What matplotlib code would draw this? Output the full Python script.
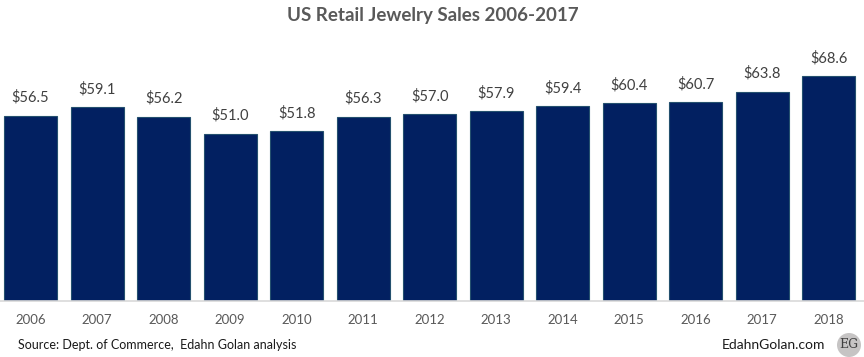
import matplotlib
matplotlib.use("Agg")
import matplotlib.pyplot as plt
from matplotlib.patches import Ellipse

years = ["2006", "2007", "2008", "2009", "2010", "2011", "2012",
         "2013", "2014", "2015", "2016", "2017", "2018"]
sales = [56.5, 59.1, 56.2, 51.0, 51.8, 56.3, 57.0, 57.9, 59.4, 60.4, 60.7, 63.8, 68.6]
labels = ["$%.1f" % v for v in sales]

plt.rcParams['font.family'] = ['Lato', 'DejaVu Sans']

fig = plt.figure(figsize=(8.64, 3.57), dpi=100)
ax = fig.add_axes([0, 0.156, 1, 0.735])

x = list(range(len(years)))
bars = ax.bar(x, sales, width=0.80, color='#022061', edgecolor='#24506e', linewidth=0.8)

for xi, v, lab in zip(x, sales, labels):
    ax.annotate(lab, (xi, v), xytext=(0, 8), textcoords='offset points',
                ha='center', va='bottom', fontsize=10.5, color='#404040')

ax.set_xlim(-0.46, 12.53)
ax.set_ylim(0, 80)
ax.set_xticks(x)
ax.set_xticklabels(years, fontsize=9.5, color='#595959')
ax.tick_params(axis='x', length=0, pad=9)
ax.set_yticks([])
for s in ['top', 'left', 'right']:
    ax.spines[s].set_visible(False)
ax.spines['bottom'].set_color('#d9d9d9')
ax.spines['bottom'].set_linewidth(1.2)

fig.text(0.501, 0.957, "US Retail Jewelry Sales 2006-2017", ha='center', va='center',
         fontsize=13.5, fontweight='bold', color='#595959')
fig.text(0.021, 0.035, "Source: Dept. of Commerce,  Edahn Golan analysis", ha='left', va='center',
         fontsize=9, color='#1a1a1a')
fig.text(0.955, 0.035, "EdahnGolan.com", ha='right', va='center', fontsize=10, color='#1a1a1a')

# EG logo
logo = Ellipse((849 / 864, 12 / 357), 24 / 864, 24 / 357, transform=fig.transFigure,
               facecolor='#c6c4c4', edgecolor='none', zorder=5)
fig.add_artist(logo)
fig.text(849 / 864, 12 / 357, "EG", ha='center', va='center', fontsize=9,
         family='DejaVu Serif', color='#404040', zorder=6)

fig.savefig("out.png", dpi=100)
